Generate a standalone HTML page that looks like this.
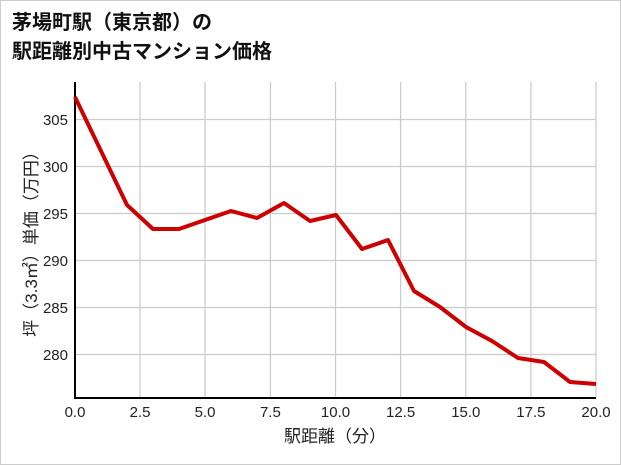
<!DOCTYPE html>
<html><head><meta charset="utf-8"><style>
body{margin:0;background:#fff;}
svg{display:block;font-family:"Liberation Sans","Noto Sans CJK JP",sans-serif;}
</style></head><body>
<svg width="621" height="465" viewBox="0 0 621 465">
<rect x="0.5" y="0.5" width="620" height="464" fill="#fff" stroke="#ccc" stroke-width="1"/>
<text x="12" y="29" font-size="20" font-weight="bold" fill="#111">茅場町駅（東京都）の</text>
<text x="12" y="58" font-size="20" font-weight="bold" fill="#111">駅距離別中古マンション価格</text>
<g stroke="#ccc" stroke-width="1.3">
<line x1="140" y1="82" x2="140" y2="398"/><line x1="205" y1="82" x2="205" y2="398"/>
<line x1="270.4" y1="82" x2="270.4" y2="398"/><line x1="335.5" y1="82" x2="335.5" y2="398"/>
<line x1="400.6" y1="82" x2="400.6" y2="398"/><line x1="465.8" y1="82" x2="465.8" y2="398"/>
<line x1="530.9" y1="82" x2="530.9" y2="398"/><line x1="596" y1="82" x2="596" y2="398"/>
<line x1="75" y1="119.5" x2="596" y2="119.5"/><line x1="75" y1="166.5" x2="596" y2="166.5"/>
<line x1="75" y1="213.5" x2="596" y2="213.5"/><line x1="75" y1="260.5" x2="596" y2="260.5"/>
<line x1="75" y1="307.5" x2="596" y2="307.5"/><line x1="75" y1="354.5" x2="596" y2="354.5"/>
</g>
<line x1="75" y1="82" x2="75" y2="398" stroke="#000" stroke-width="2"/>
<line x1="74" y1="398" x2="596" y2="398" stroke="#000" stroke-width="2"/>
<g font-size="15" fill="#222" text-anchor="end">
<text x="68" y="125">305</text><text x="68" y="172">300</text><text x="68" y="219">295</text>
<text x="68" y="266">290</text><text x="68" y="313">285</text><text x="68" y="360">280</text>
</g>
<g font-size="15" fill="#222" text-anchor="middle">
<text x="75" y="417">0.0</text><text x="140" y="417">2.5</text><text x="205" y="417">5.0</text>
<text x="270.4" y="417">7.5</text><text x="335.5" y="417">10.0</text><text x="400.6" y="417">12.5</text>
<text x="465.8" y="417">15.0</text><text x="530.9" y="417">17.5</text><text x="596" y="417">20.0</text>
</g>
<text x="335" y="442" font-size="17" fill="#222" text-anchor="middle">駅距離（分）</text>
<text transform="translate(37,240) rotate(-90)" font-size="17" fill="#222" text-anchor="middle">坪（3.3㎡）単価（万円）</text>
<polyline fill="none" stroke="#cc0000" stroke-width="4" stroke-linejoin="round" points="75,97 127,205 153,229 179,229 205,220 231,211 257,218 284,203 310,221 336,215 362,249 388,240 414,291 440,307 466,327 492,341 518,358 544,362 570,382 596,384"/>
</svg>
</body></html>
